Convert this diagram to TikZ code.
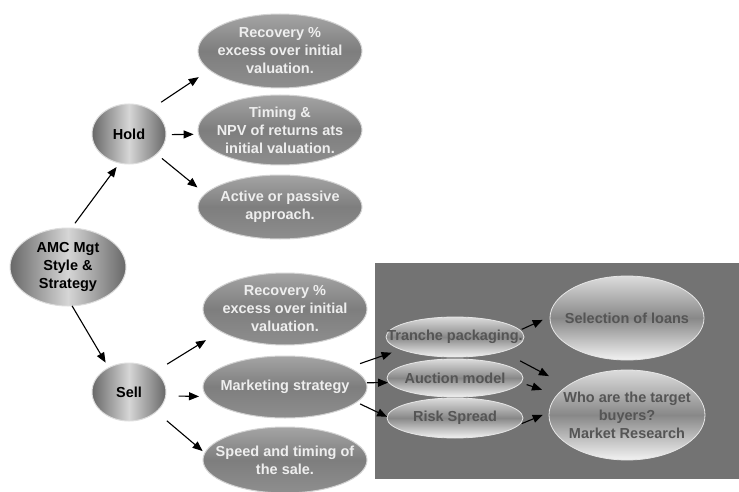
\documentclass[tikz,border=0pt]{standalone}
\usepackage{fontspec}
\setmainfont{Liberation Sans}
\usetikzlibrary{shapes.geometric,arrows.meta}
\definecolor{leafT}{HTML}{A4A4A4}
\definecolor{leafM}{HTML}{7E7E7E}
\definecolor{leafB}{HTML}{8E8E8E}
\definecolor{leafRim}{HTML}{D2D2D2}
\definecolor{leafText}{HTML}{EEEEEE}
\definecolor{hubD}{HTML}{686868}
\definecolor{hubL}{HTML}{D6D6D6}
\definecolor{hubRim}{HTML}{DDDDDD}
\definecolor{bxT}{HTML}{DCDCDC}
\definecolor{bxM}{HTML}{888888}
\definecolor{bxB}{HTML}{F2F2F2}
\definecolor{bxRim}{HTML}{E6E6E6}
\definecolor{bxText}{HTML}{555555}
\definecolor{panel}{HTML}{737373}
\tikzset{
  base/.style={ellipse, inner sep=0pt, outer sep=0pt},
  leaf/.style={base, top color=leafT, bottom color=leafB, middle color=leafM, draw=leafRim, line width=1pt},
  hub/.style={base, left color=hubD, right color=hubD, middle color=hubL, draw=hubRim, line width=1pt},
  boxel/.style={base, top color=bxT, bottom color=bxB, middle color=bxM, draw=bxRim, line width=0.8pt},
  ltext/.style={font=\bfseries\fontsize{14.5}{18}\selectfont, text=leafText, align=center},
  htext/.style={font=\bfseries\fontsize{14.5}{18}\selectfont, text=black, align=center},
  btext/.style={font=\bfseries\fontsize{14.5}{18}\selectfont, text=bxText, align=center},
  arr/.style={-{Triangle[length=10pt,width=8pt]}, line width=1.1pt, draw=black}
}
\begin{document}
\begin{tikzpicture}[x=1pt,y=-1pt]
\useasboundingbox (0,0) rectangle (739,492);
\fill[panel] (375,263) rectangle (739,479);

% hubs
\node[hub, minimum width=116pt, minimum height=78pt, label={[htext]center:{AMC Mgt\\Style \&\\Strategy}}] (amc) at (68,267) {};
\node[hub, minimum width=74pt, minimum height=60pt, label={[htext]center:Hold}] (hold) at (129,134) {};
\node[hub, minimum width=74pt, minimum height=58pt, label={[htext]center:Sell}] (sell) at (129,392) {};

% hold leaves
\node[leaf, minimum width=164pt, minimum height=74pt, label={[ltext]center:{Recovery \%\\excess over initial\\valuation.}}] (rec1) at (280,51) {};
\node[leaf, minimum width=164pt, minimum height=70pt, label={[ltext]center:{Timing \&\\NPV of returns ats\\initial valuation.}}] (tim) at (280,130) {};
\node[leaf, minimum width=164pt, minimum height=64pt, label={[ltext]center:{Active or passive\\approach.}}] (act) at (280,207) {};

% sell leaves
\node[leaf, minimum width=164pt, minimum height=72pt, label={[ltext]center:{Recovery \%\\excess over initial\\valuation.}}] (rec2) at (285,309) {};
\node[leaf, minimum width=164pt, minimum height=62pt, label={[ltext]center:{Marketing strategy}}] (mkt) at (285,387) {};
\node[leaf, minimum width=164pt, minimum height=66pt, label={[ltext]center:{Speed and timing of\\the sale.}}] (spd) at (285,460) {};

% panel ellipses
\node[boxel, minimum width=138pt, minimum height=40pt, label={[btext]center:{Tranche packaging.}}] (tr) at (455,337) {};
\node[boxel, minimum width=136pt, minimum height=38pt, label={[btext]center:{Auction model}}] (auc) at (455,378) {};
\node[boxel, minimum width=136pt, minimum height=40pt, label={[btext]center:{Risk Spread}}] (risk) at (455,418) {};
\node[boxel, minimum width=154pt, minimum height=84pt, label={[btext]center:{Selection of loans}}] (sel) at (627,318) {};
\node[boxel, minimum width=156pt, minimum height=90pt, label={[btext]center:{Who are the target\\buyers?\\Market Research}}] (who) at (627,415) {};

% arrows
\draw[arr, shorten <=6pt, shorten >=5pt] (amc.85) -- (hold.252);
\draw[arr, shorten <=13pt, shorten >=13pt] (hold.49) -- (rec1.195);
\draw[arr, shorten <=6pt, shorten >=5pt] (hold.359) -- (tim.183);
\draw[arr, shorten <=7pt, shorten >=10pt] (hold.324) -- (act.170);
\draw[arr, shorten <=0pt, shorten >=6pt] (amc.276) -- (sell.130);
\draw[arr, shorten <=14pt, shorten >=17pt] (sell.38) -- (rec2.199);
\draw[arr, shorten <=13pt, shorten >=8pt] (sell.354) -- (mkt.187);
\draw[arr, shorten <=14pt, shorten >=3pt] (sell.324) -- (spd.175);
\draw[arr, shorten <=12pt, shorten >=10pt] (mkt.17) -- (tr.193);
\draw[arr, shorten <=1pt, shorten >=1pt] (mkt.3) -- (auc.184);
\draw[arr, shorten <=4pt, shorten >=0pt] (mkt.348) -- (risk.179);
\draw[arr, shorten <=2pt, shorten >=8pt] (tr.6) -- (sel.179);
\draw[arr, shorten <=20pt, shorten >=21pt] (tr.343) -- (who.154);
\draw[arr, shorten <=6pt, shorten >=16pt] (auc.356) -- (who.164);
\draw[arr, shorten <=3pt, shorten >=7pt] (risk.354) -- (who.178);
\end{tikzpicture}
\end{document}
